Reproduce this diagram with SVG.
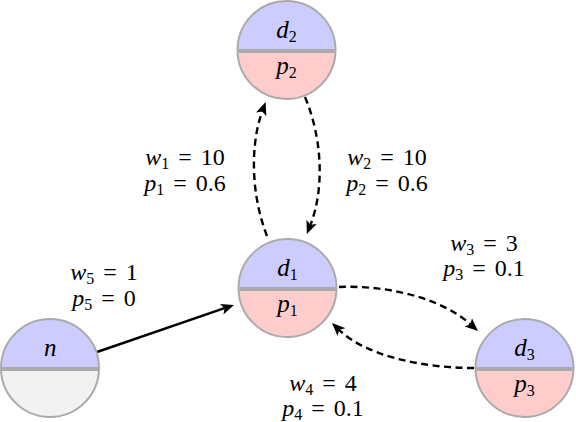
<svg xmlns="http://www.w3.org/2000/svg" width="576" height="422" viewBox="0 0 576 422">
<rect width="576" height="422" fill="#fff"/>
<defs>
  <path id="tophalf" d="M-49,0 A49,49 0 0 1 49,0 Z"/>
  <path id="bothalf" d="M-49,0 A49,49 0 0 0 49,0 Z"/>
  <circle id="ring" r="49" fill="none" stroke="#aaaaaa" stroke-width="2"/>
  <line id="bar" x1="-48" y1="1" x2="48" y2="1" stroke="#aaaaaa" stroke-width="4"/>
  <marker id="arr" viewBox="0 -6 14 12" refX="3" refY="0" markerWidth="14" markerHeight="12" markerUnits="userSpaceOnUse" orient="auto">
    <path d="M13,0 L0,-5.5 L3,0 L0,5.5 Z" fill="#000"/>
  </marker>
</defs>
<g id="connectors" fill="none" stroke="#000" stroke-width="2.4">
  <path d="M97,352 L224.5,308.2" marker-end="url(#arr)"/>
  <path stroke-dasharray="7 4.5" d="M267,236 C251,195 250,145 262.2,111.5" marker-end="url(#arr)"/>
  <path stroke-dasharray="7 4.5" d="M305,97 C323,140 324,190 310.5,224.7" marker-end="url(#arr)"/>
  <path stroke-dasharray="7 4.5" d="M339,287 C385,285 440,297 470.5,324.3" marker-end="url(#arr)"/>
  <path stroke-dasharray="7 4.5" d="M474,368 C420,368 365,355 339.2,330" marker-end="url(#arr)"/>
</g>
<g id="node-d2">
  <use href="#tophalf" x="286.5" y="50" fill="#ccccff"/>
  <use href="#bothalf" x="286.5" y="50" fill="#ffcccc"/>
  <use href="#ring" x="286.5" y="50"/>
  <use href="#bar" x="286.5" y="50"/>
</g>
<g id="node-d1">
  <use href="#tophalf" x="287.5" y="288" fill="#ccccff"/>
  <use href="#bothalf" x="287.5" y="288" fill="#ffcccc"/>
  <use href="#ring" x="287.5" y="288"/>
  <use href="#bar" x="287.5" y="288"/>
</g>
<g id="node-n">
  <use href="#tophalf" x="50" y="368" fill="#ccccff"/>
  <use href="#bothalf" x="50" y="368" fill="#f2f2f2"/>
  <use href="#ring" x="50" y="368"/>
  <use href="#bar" x="50" y="368"/>
</g>
<g id="node-d3">
  <use href="#tophalf" x="524.5" y="368" fill="#ccccff"/>
  <use href="#bothalf" x="524.5" y="368" fill="#ffcccc"/>
  <use href="#ring" x="524.5" y="368"/>
  <use href="#bar" x="524.5" y="368"/>
</g>
<text x="276.25" y="38" style="font-family:'Liberation Serif';font-style:italic" font-size="25">d</text>
<text x="288.75" y="42" style="font-family:'Liberation Serif'" font-size="16">2</text>
<text x="276.25" y="74" style="font-family:'Liberation Serif';font-style:italic" font-size="25">p</text>
<text x="288.75" y="78" style="font-family:'Liberation Serif'" font-size="16">2</text>
<text x="277.25" y="276" style="font-family:'Liberation Serif';font-style:italic" font-size="25">d</text>
<text x="289.75" y="280" style="font-family:'Liberation Serif'" font-size="16">1</text>
<text x="277.25" y="312" style="font-family:'Liberation Serif';font-style:italic" font-size="25">p</text>
<text x="289.75" y="316" style="font-family:'Liberation Serif'" font-size="16">1</text>
<text x="44" y="356" style="font-family:'Liberation Serif';font-style:italic" font-size="25">n</text>
<text x="514.25" y="356" style="font-family:'Liberation Serif';font-style:italic" font-size="25">d</text>
<text x="526.75" y="360" style="font-family:'Liberation Serif'" font-size="16">3</text>
<text x="514.25" y="392" style="font-family:'Liberation Serif';font-style:italic" font-size="25">p</text>
<text x="526.75" y="396" style="font-family:'Liberation Serif'" font-size="16">3</text>
<text x="145.25" y="164.5" style="font-family:'Liberation Serif';font-style:italic" font-size="24">w</text>
<text x="161.25" y="168.5" style="font-family:'Liberation Serif'" font-size="16">1</text>
<text x="178.25" y="164.5" style="font-family:'Liberation Serif'" font-size="24">=</text>
<text x="200.75" y="164.5" style="font-family:'Liberation Serif'" font-size="24">10</text>
<text x="144.25" y="190.5" style="font-family:'Liberation Serif';font-style:italic" font-size="24">p</text>
<text x="156.25" y="194.5" style="font-family:'Liberation Serif'" font-size="16">1</text>
<text x="173.25" y="190.5" style="font-family:'Liberation Serif'" font-size="24">=</text>
<text x="195.75" y="190.5" style="font-family:'Liberation Serif'" font-size="24">0.6</text>
<text x="347.25" y="164.5" style="font-family:'Liberation Serif';font-style:italic" font-size="24">w</text>
<text x="363.25" y="168.5" style="font-family:'Liberation Serif'" font-size="16">2</text>
<text x="380.25" y="164.5" style="font-family:'Liberation Serif'" font-size="24">=</text>
<text x="402.75" y="164.5" style="font-family:'Liberation Serif'" font-size="24">10</text>
<text x="346.25" y="190.5" style="font-family:'Liberation Serif';font-style:italic" font-size="24">p</text>
<text x="358.25" y="194.5" style="font-family:'Liberation Serif'" font-size="16">2</text>
<text x="375.25" y="190.5" style="font-family:'Liberation Serif'" font-size="24">=</text>
<text x="397.75" y="190.5" style="font-family:'Liberation Serif'" font-size="24">0.6</text>
<text x="450.25" y="250.5" style="font-family:'Liberation Serif';font-style:italic" font-size="24">w</text>
<text x="466.25" y="254.5" style="font-family:'Liberation Serif'" font-size="16">3</text>
<text x="483.25" y="250.5" style="font-family:'Liberation Serif'" font-size="24">=</text>
<text x="505.75" y="250.5" style="font-family:'Liberation Serif'" font-size="24">3</text>
<text x="443.25" y="275.5" style="font-family:'Liberation Serif';font-style:italic" font-size="24">p</text>
<text x="455.25" y="279.5" style="font-family:'Liberation Serif'" font-size="16">3</text>
<text x="472.25" y="275.5" style="font-family:'Liberation Serif'" font-size="24">=</text>
<text x="494.75" y="275.5" style="font-family:'Liberation Serif'" font-size="24">0.1</text>
<text x="289.25" y="390.5" style="font-family:'Liberation Serif';font-style:italic" font-size="24">w</text>
<text x="305.25" y="394.5" style="font-family:'Liberation Serif'" font-size="16">4</text>
<text x="322.25" y="390.5" style="font-family:'Liberation Serif'" font-size="24">=</text>
<text x="344.75" y="390.5" style="font-family:'Liberation Serif'" font-size="24">4</text>
<text x="282.25" y="415.5" style="font-family:'Liberation Serif';font-style:italic" font-size="24">p</text>
<text x="294.25" y="419.5" style="font-family:'Liberation Serif'" font-size="16">4</text>
<text x="311.25" y="415.5" style="font-family:'Liberation Serif'" font-size="24">=</text>
<text x="333.75" y="415.5" style="font-family:'Liberation Serif'" font-size="24">0.1</text>
<text x="70.25" y="279.5" style="font-family:'Liberation Serif';font-style:italic" font-size="24">w</text>
<text x="86.25" y="283.5" style="font-family:'Liberation Serif'" font-size="16">5</text>
<text x="103.25" y="279.5" style="font-family:'Liberation Serif'" font-size="24">=</text>
<text x="125.75" y="279.5" style="font-family:'Liberation Serif'" font-size="24">1</text>
<text x="72.25" y="305.5" style="font-family:'Liberation Serif';font-style:italic" font-size="24">p</text>
<text x="84.25" y="309.5" style="font-family:'Liberation Serif'" font-size="16">5</text>
<text x="101.25" y="305.5" style="font-family:'Liberation Serif'" font-size="24">=</text>
<text x="123.75" y="305.5" style="font-family:'Liberation Serif'" font-size="24">0</text>
</svg>
